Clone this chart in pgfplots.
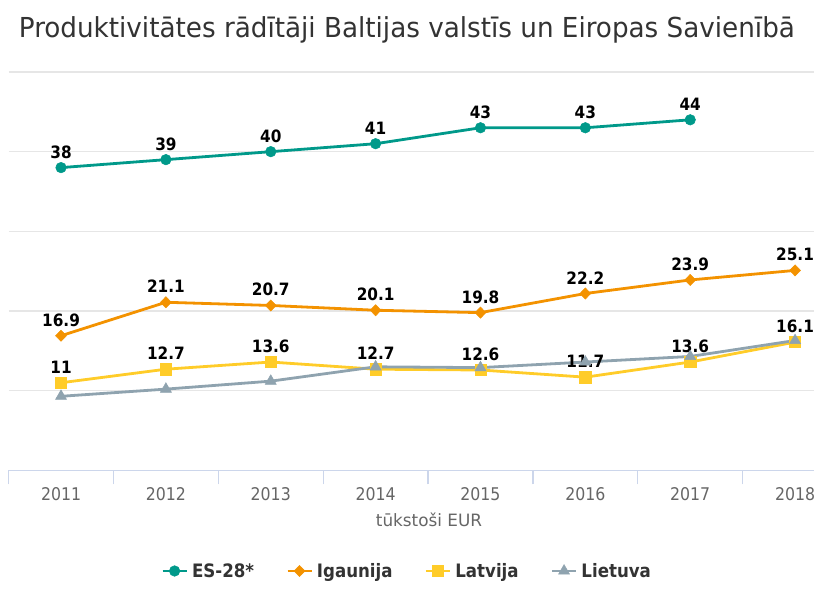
\documentclass[border=0pt]{standalone}
\usepackage{fontspec}
\setmainfont{DejaVu Sans Condensed}
\usepackage{pgfplots}
\pgfplotsset{compat=1.18}

\definecolor{cES}{HTML}{00998A}
\definecolor{cEE}{HTML}{F39200}
\definecolor{cLV}{HTML}{FFCC29}
\definecolor{cLT}{HTML}{8FA3AF}
\definecolor{cTitle}{HTML}{333333}
\definecolor{cTick}{HTML}{666666}
\definecolor{cAxis}{HTML}{CCD6EB}
\definecolor{cGrid}{HTML}{E6E6E6}

\begin{document}
\begin{tikzpicture}[x=1pt,y=1pt]
\useasboundingbox (0,0) rectangle (814,610);
\clip (0,0) rectangle (814,610);
\node[anchor=base, text=cTitle, xscale=1.06, font=\fontsize{27.5}{32}\selectfont] at (407,572)
  {Produktivitātes rādītāji Baltijas valstīs un Eiropas Savienībā};
\node[anchor=base, text=cTick, xscale=1.1, font=\fontsize{17}{20}\selectfont] at (429,83.3) {tūkstoši EUR};
\begin{axis}[
  at={(8.6pt,139.6pt)}, anchor=south west,
  scale only axis, width=838.9pt, height=398.4pt,
  xmin=-0.5, xmax=7.5, ymin=0, ymax=50,
  axis x line*=bottom, axis y line*=left,
  x axis line style={draw=cAxis, line width=1.3pt, -},
  y axis line style={draw=none},
  xtick={-0.5,0.5,...,7.5},
  x tick label as interval,
  xticklabels={2011,2012,2013,2014,2015,2016,2017,2018},
  xticklabel style={anchor=base, yshift=-16.6pt, text=cTick, font=\fontsize{17.5}{20}\selectfont},
  tick align=outside, major tick length=14pt,
  xtick style={draw=cAxis, line width=1.3pt},
  ytick={10,20,30,40,50}, yticklabels={},
  ytick style={draw=none},
  ymajorgrids, grid style={draw=cGrid, line width=1.3pt},
  clip=false,
  point meta=explicit symbolic,
  every node near coord/.append style={anchor=base, yshift=9.5pt, text=black,
    font=\bfseries\fontsize{17}{20}\selectfont},
  legend columns=4,
  legend style={at={(0.475,-0.2525)}, anchor=center, draw=none, fill=none,
    text=cTitle, font=\bfseries\fontsize{18.5}{22}\selectfont,
    /tikz/every even column/.append style={column sep=30pt},
    /tikz/every odd column/.append style={column sep=2pt}},
  legend image code/.code={\draw[mark repeat=2,mark phase=2]
    plot coordinates {(0pt,0pt)(12pt,0pt)(24pt,0pt)};},
]
\addplot[cES, line width=2.8pt, mark=*, mark size=5.3pt,
  mark options={solid, line width=0.5pt}, nodes near coords]
  coordinates {(0,38)[38] (1,39)[39] (2,40)[40] (3,41)[41] (4,43)[43] (5,43)[43] (6,44)[44]};
\addlegendentry{ES-28*}
\addplot[cEE, line width=2.8pt, mark=diamond*, mark size=5.6pt,
  mark options={solid, line width=0.5pt, xscale=1.3}, nodes near coords]
  coordinates {(0,16.9)[16.9] (1,21.1)[21.1] (2,20.7)[20.7] (3,20.1)[20.1] (4,19.8)[19.8]
               (5,22.2)[22.2] (6,23.9)[23.9] (7,25.1)[25.1]};
\addlegendentry{Igaunija}
\addplot[cLV, line width=2.8pt, mark=square*, mark size=5.6pt,
  mark options={solid, line width=0.5pt}, nodes near coords]
  coordinates {(0,11)[11] (1,12.7)[12.7] (2,13.6)[13.6] (3,12.7)[12.7] (4,12.6)[12.6]
               (5,11.7)[11.7] (6,13.6)[13.6] (7,16.1)[16.1]};
\addlegendentry{Latvija}
\addplot[cLT, line width=2.8pt, mark=triangle*, mark size=6.4pt,
  mark options={solid, line width=0.5pt}]
  coordinates {(0,9.3) (1,10.2) (2,11.2) (3,13.0) (4,12.9) (5,13.6) (6,14.3) (7,16.3)};
\addlegendentry{Lietuva}
\end{axis}
\end{tikzpicture}
\end{document}
